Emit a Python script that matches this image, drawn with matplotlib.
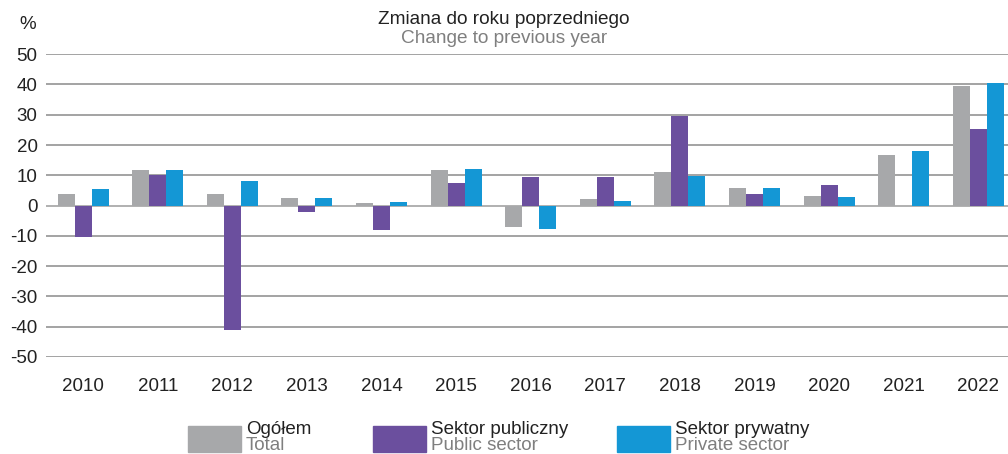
import numpy as np
import matplotlib
matplotlib.use('Agg')
import matplotlib.pyplot as plt
from matplotlib.patches import Rectangle

plt.rcParams['font.family'] = ['Liberation Sans', 'DejaVu Sans']
plt.rcParams['axes.unicode_minus'] = False

# data
years = ['2010', '2011', '2012', '2013', '2014', '2015', '2016',
         '2017', '2018', '2019', '2020', '2021', '2022']
total = [3.9, 11.7, 3.9, 2.6, 1.0, 11.7, -7.2, 2.3, 11.1, 5.9, 3.3, 16.6, 39.5]
public = [-10.4, 10.1, -41.1, -2.0, -8.0, 7.5, 9.5, 9.5, 29.6, 3.9, 6.8, -0.3, 25.3]
private = [5.5, 11.7, 8.2, 2.6, 1.3, 12.1, -7.8, 1.6, 9.9, 5.9, 2.9, 17.9, 40.5]

labels_pl = ['Ogółem', 'Sektor publiczny', 'Sektor prywatny']
labels_en = ['Total', 'Public sector', 'Private sector']
colors = ['#a7a8aa', '#6b4f9e', '#1497d5']

fig = plt.figure(figsize=(10.08, 4.54), dpi=100)
ax = fig.add_axes([0.0456, 0.2137, 0.9544, 0.667])

x = np.arange(len(years))
w = 0.228
for i, (vals, c) in enumerate(zip([total, public, private], colors)):
    ax.bar(x + (i - 1) * w, vals, width=w, color=c, zorder=3)

ax.set_ylim(-50, 50)
ax.set_yticks(range(-50, 51, 10))
ax.set_xlim(-0.5, 12.4)
ax.set_xticks(x)
ax.set_xticklabels(years)
ax.yaxis.grid(True, color='#8a8a8a', linewidth=1.1, zorder=0)
ax.axhline(0, color='#b5b5b5', linewidth=1.2, zorder=2)
for s in ax.spines.values():
    s.set_visible(False)
ax.tick_params(length=0, labelsize=13.5, colors='#222222')
ax.tick_params(axis='x', pad=15)
ax.tick_params(axis='y', pad=6)

fig.text(0.027, 0.945, '%', fontsize=13.5, color='#222222', ha='center', va='center')
fig.text(0.5, 0.958, 'Zmiana do roku poprzedniego', fontsize=13.7, color='#222222',
         ha='center', va='center')
fig.text(0.5, 0.915, 'Change to previous year', fontsize=13.7, color='#7f7f7f',
         ha='center', va='center')

# legend
box_x = [188, 373, 617]
for bx, c, lp, le in zip(box_x, colors, labels_pl, labels_en):
    fig.add_artist(Rectangle((bx / 1008, (454 - 452) / 454), 53 / 1008, 26 / 454,
                             transform=fig.transFigure, color=c))
    fig.text((bx + 58) / 1008, (454 - 429) / 454, lp, fontsize=13.5, color='#222222',
             va='center', ha='left')
    fig.text((bx + 58) / 1008, (454 - 446) / 454, le, fontsize=13.5, color='#7f7f7f',
             va='center', ha='left')

fig.savefig('out.png', dpi=100)
